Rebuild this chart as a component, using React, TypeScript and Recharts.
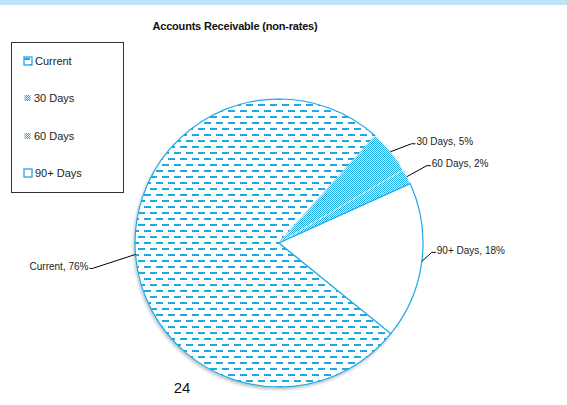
import { PieChart, Pie, Cell } from "recharts";

const categories = ["Current", "30 Days", "60 Days", "90+ Days"];
const values = [75.8, 4.9, 1.7, 17.6];
const title = "Accounts Receivable (non-rates)";
const pageNumber = "24";

const BLUE = "#1fa9e4";
const fills = ["url(#patCurrent)", "url(#pat30)", "url(#pat60)", "#ffffff"];

// elbow offsets for the leader lines (dx, dy from the arc point)
const labelElbow: Record<string, [number, number]> = {
  Current: [-43, 14],
  "30 Days": [21, -8],
  "60 Days": [20, -11],
  "90+ Days": [10, -9],
};

const data = categories.map((name, i) => ({ name, value: values[i] }));
const total = values.reduce((a, b) => a + b, 0);
const RADIAN = Math.PI / 180;

function renderLabel(props: any) {
  const { cx, cy, midAngle, outerRadius, name, value } = props;
  const x0 = cx + outerRadius * Math.cos(-midAngle * RADIAN);
  const y0 = cy + outerRadius * Math.sin(-midAngle * RADIAN);
  const [dx, dy] = labelElbow[name] || [15, -8];
  const x1 = x0 + dx;
  const y1 = y0 + dy;
  const left = dx < 0;
  const x2 = x1 + (left ? -3 : 4);
  const pct = Math.round((value / total) * 100);
  return (
    <g>
      <polyline points={`${x0},${y0} ${x1},${y1} ${x2},${y1}`} fill="none" stroke="#000" strokeWidth={1} />
      <text
        x={x2 + (left ? -1 : 1)}
        y={y1 - 2}
        textAnchor={left ? "end" : "start"}
        dominantBaseline="central"
        fontSize={10}
        fill="#222"
        fontFamily="Liberation Sans, Arial, sans-serif"
      >
        {`${name}, ${pct}%`}
      </text>
    </g>
  );
}

function Patterns() {
  return (
    <defs>
      <pattern id="patCurrent" patternUnits="userSpaceOnUse" width={12} height={12}>
        <rect width={12} height={12} fill="#fff" />
        <rect x={0} y={2} width={7} height={2} fill={BLUE} />
        <rect x={6} y={8} width={7} height={2} fill={BLUE} />
        <rect x={-6} y={8} width={7} height={2} fill={BLUE} />
      </pattern>
      <pattern id="pat30" patternUnits="userSpaceOnUse" width={2} height={2}>
        <rect width={2} height={2} fill="#d8f0fb" />
        <rect x={0} y={0} width={1} height={1} fill={BLUE} />
        <rect x={1} y={1} width={1} height={1} fill={BLUE} />
      </pattern>
      <pattern id="pat60" patternUnits="userSpaceOnUse" width={2} height={2}>
        <rect width={2} height={2} fill="#e6f5fc" />
        <rect x={0} y={0} width={1} height={1} fill={BLUE} />
        <rect x={1} y={1} width={1} height={1} fill={BLUE} />
      </pattern>
      <filter id="pieShadow" x="-10%" y="-10%" width="120%" height="120%">
        <feDropShadow dx={-1} dy={2} stdDeviation={1.5} floodColor="#000" floodOpacity={0.25} />
      </filter>
    </defs>
  );
}

function LegendMarker({ index }: { index: number }) {
  if (index === 1 || index === 2) {
    return (
      <svg width={9} height={8} style={{ marginRight: 2 }}>
        <rect width={6} height={6} x={1.5} y={1} fill={fills[index]} />
      </svg>
    );
  }
  return (
    <svg width={10} height={10} style={{ marginRight: 2 }}>
      <rect x={1} y={1} width={8} height={8} fill={index === 0 ? "url(#patCurrent)" : "#fff"} stroke={BLUE} strokeWidth={1.3} />
    </svg>
  );
}

export default function App() {
  return (
    <div style={{ position: "absolute", left: 0, top: 0, width: 567, height: 405, background: "#fff", overflow: "hidden", fontFamily: "Liberation Sans, Arial, sans-serif" }}>
      <div style={{ position: "absolute", left: 0, top: 0, width: 567, height: 5, background: "#bfe4f5" }} />
      <div style={{ position: "absolute", left: 0, width: 470, top: 20, textAlign: "center", fontSize: 11, fontWeight: 700, color: "#111", letterSpacing: -0.2 }}>
        {title}
      </div>
      <PieChart width={567} height={405} margin={{ top: 0, right: 0, bottom: 0, left: 0 }} style={{ position: "absolute", left: 0, top: 0 }}>
        <Patterns />
        <Pie
          data={data}
          dataKey="value"
          nameKey="name"
          cx={279}
          cy={243}
          outerRadius={144}
          startAngle={-39}
          endAngle={-399}
          stroke={BLUE}
          strokeWidth={1.2}
          label={renderLabel}
          labelLine={false}
          isAnimationActive={false}
        >
          {data.map((d, i) => (
            <Cell
              key={d.name}
              fill={fills[i]}
              stroke={i === 1 || i === 2 ? "#e8f6fc" : BLUE}
              strokeWidth={i === 1 || i === 2 ? 0.8 : 1.2}
              filter={i === 0 ? "url(#pieShadow)" : undefined}
            />
          ))}
        </Pie>
      </PieChart>
      <div style={{ position: "absolute", left: 11, top: 42, width: 113, height: 151, border: "1px solid #333", boxSizing: "border-box", background: "#fff" }}>
        {categories.map((c, i) => (
          <div key={c} style={{ position: "absolute", left: 11, top: 12 + i * 37.3, display: "flex", alignItems: "center", fontSize: 11, color: "#222", whiteSpace: "nowrap" }}>
            <LegendMarker index={i} />
            <span>{c}</span>
          </div>
        ))}
      </div>
      <div style={{ position: "absolute", left: 160, width: 44, top: 379, textAlign: "center", fontSize: 15, color: "#111" }}>
        {pageNumber}
      </div>
    </div>
  );
}
